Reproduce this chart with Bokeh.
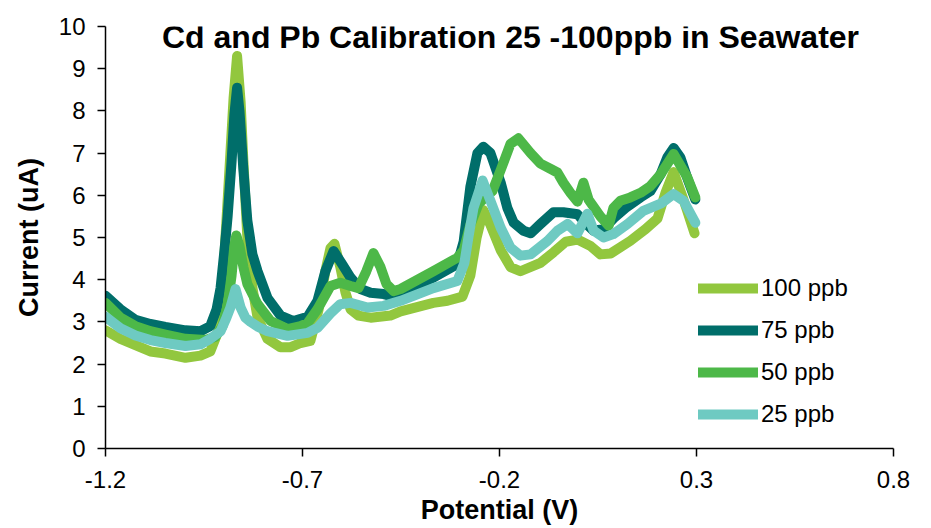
from bokeh.plotting import figure
from bokeh.models import Range1d, FixedTicker, Legend, LegendItem, Label, CustomJSTickFormatter
from bokeh.embed import file_html
from bokeh.resources import INLINE

# ---- data (Potential in V, Current in uA) ----
x_100 = [-1.200, -1.162, -1.124, -1.086, -1.048, -0.997, -0.959, -0.934, -0.913, -0.903,
         -0.893, -0.883, -0.875, -0.866, -0.857, -0.850, -0.840, -0.827, -0.814, -0.789,
         -0.756, -0.730, -0.705, -0.680, -0.659, -0.642, -0.629, -0.619, -0.604, -0.591,
         -0.578, -0.558, -0.527, -0.477, -0.451, -0.368, -0.332, -0.294, -0.274, -0.258,
         -0.241, -0.223, -0.197, -0.172, -0.147, -0.096, -0.063, -0.032, -0.002, 0.031,
         0.056, 0.082, 0.132, 0.171, 0.201, 0.221, 0.242, 0.267, 0.295]
y_100 = [2.80, 2.60, 2.45, 2.30, 2.25, 2.15, 2.20, 2.30, 2.80, 3.80,
         5.40, 7.00, 8.30, 9.30, 8.20, 6.80, 5.00, 3.80, 3.10, 2.60,
         2.40, 2.40, 2.50, 2.55, 3.30, 4.20, 4.75, 4.85, 4.30, 3.70,
         3.30, 3.15, 3.10, 3.15, 3.25, 3.45, 3.50, 3.60, 4.10, 5.00,
         5.65, 5.30, 4.70, 4.30, 4.20, 4.40, 4.65, 4.90, 4.95, 4.80,
         4.60, 4.62, 4.92, 5.20, 5.45, 6.05, 6.55, 5.90, 5.10]

x_75 = [-1.200, -1.162, -1.124, -1.086, -1.048, -0.997, -0.959, -0.934, -0.918, -0.908,
        -0.898, -0.890, -0.880, -0.873, -0.866, -0.860, -0.850, -0.840, -0.827, -0.814,
        -0.789, -0.756, -0.723, -0.687, -0.662, -0.642, -0.621, -0.598, -0.578, -0.553,
        -0.527, -0.494, -0.469, -0.426, -0.368, -0.307, -0.291, -0.274, -0.256, -0.241,
        -0.223, -0.197, -0.180, -0.164, -0.139, -0.121, -0.096, -0.063, -0.038, -0.002,
        0.023, 0.039, 0.064, 0.089, 0.120, 0.158, 0.183, 0.209, 0.226, 0.242,
        0.259, 0.277, 0.297]
y_75 = [3.62, 3.30, 3.05, 2.95, 2.88, 2.80, 2.78, 2.90, 3.30, 3.80,
        4.70, 5.50, 6.80, 7.90, 8.55, 8.00, 6.60, 5.40, 4.60, 4.20,
        3.57, 3.15, 3.02, 3.12, 3.50, 4.20, 4.68, 4.35, 4.05, 3.78,
        3.69, 3.66, 3.60, 3.80, 4.05, 4.37, 4.90, 6.20, 7.00, 7.15,
        7.00, 6.30, 5.70, 5.35, 5.16, 5.10, 5.32, 5.60, 5.60, 5.55,
        5.30, 5.16, 5.20, 5.45, 5.70, 5.95, 6.10, 6.50, 6.90, 7.12,
        6.90, 6.40, 5.90]

x_50 = [-1.200, -1.162, -1.124, -1.086, -1.048, -0.997, -0.946, -0.921, -0.903, -0.890,
        -0.880, -0.873, -0.868, -0.860, -0.850, -0.840, -0.814, -0.781, -0.738, -0.705,
        -0.687, -0.662, -0.629, -0.604, -0.578, -0.558, -0.538, -0.520, -0.502, -0.487,
        -0.469, -0.451, -0.368, -0.307, -0.291, -0.274, -0.253, -0.236, -0.218, -0.197,
        -0.172, -0.152, -0.121, -0.096, -0.071, -0.053, -0.038, -0.020, -0.002, 0.013,
        0.026, 0.056, 0.077, 0.089, 0.107, 0.132, 0.158, 0.183, 0.209, 0.242,
        0.277, 0.297]
y_50 = [3.45, 3.10, 2.90, 2.78, 2.70, 2.60, 2.57, 2.65, 2.90, 3.40,
        4.10, 4.80, 5.05, 4.80, 4.30, 3.90, 3.42, 3.02, 2.83, 2.90,
        2.97, 3.30, 3.85, 3.93, 3.85, 3.80, 4.20, 4.63, 4.30, 3.90,
        3.73, 3.78, 4.20, 4.52, 4.70, 5.30, 5.80, 5.95, 6.10, 6.60,
        7.22, 7.35, 7.00, 6.75, 6.63, 6.54, 6.30, 6.06, 5.85, 6.30,
        5.90, 5.50, 5.28, 5.70, 5.87, 5.95, 6.06, 6.22, 6.50, 6.98,
        6.42, 5.95]

x_25 = [-1.200, -1.162, -1.124, -1.086, -1.048, -0.997, -0.959, -0.934, -0.908, -0.893,
        -0.883, -0.870, -0.857, -0.845, -0.832, -0.812, -0.789, -0.738, -0.687, -0.662,
        -0.629, -0.604, -0.578, -0.535, -0.494, -0.451, -0.368, -0.307, -0.289, -0.279,
        -0.266, -0.243, -0.223, -0.197, -0.172, -0.147, -0.121, -0.078, -0.053, -0.027,
        -0.002, 0.023, 0.039, 0.064, 0.089, 0.125, 0.165, 0.209, 0.242, 0.267,
        0.297]
y_25 = [3.12, 2.85, 2.68, 2.57, 2.50, 2.43, 2.47, 2.60, 2.78, 3.10,
        3.34, 3.78, 3.34, 3.10, 3.00, 2.88, 2.78, 2.67, 2.74, 2.86,
        3.20, 3.42, 3.45, 3.34, 3.38, 3.50, 3.80, 3.97, 4.40, 5.00,
        5.70, 6.35, 5.87, 5.23, 4.76, 4.57, 4.60, 4.92, 5.16, 5.32,
        5.10, 5.56, 5.16, 5.00, 5.08, 5.32, 5.63, 5.80, 6.03, 5.87,
        5.35]

series_names = ["100 ppb", "75 ppb", "50 ppb", "25 ppb"]
series_colors = ["#92C73E", "#006E6A", "#4DB848", "#6ECAC2"]
series_x = [x_100, x_75, x_50, x_25]
series_y = [y_100, y_75, y_50, y_25]

x_ticks = [-1.2, -0.7, -0.2, 0.3, 0.8]
y_ticks = list(range(0, 11))

title_text = "Cd and Pb Calibration 25 -100ppb in Seawater"
x_label = "Potential (V)"
y_label = "Current (uA)"

FONT = "Liberation Sans"

p = figure(width=921, height=528, output_backend="svg", toolbar_location=None,
           x_range=Range1d(-1.2, 0.8), y_range=Range1d(0, 10),
           min_border_left=105, min_border_right=28, min_border_top=26, min_border_bottom=80)
p.outline_line_color = None
p.grid.visible = False
p.background_fill_color = "white"
p.border_fill_color = "white"

renderers = []
for xs, ys, c in zip(series_x, series_y, series_colors):
    r = p.line(xs, ys, line_color=c, line_width=10, line_cap="round", line_join="round")
    renderers.append(r)

for ax in (p.xaxis[0], p.yaxis[0]):
    ax.axis_line_color = "black"
    ax.axis_line_width = 1.5
    ax.major_tick_line_color = "black"
    ax.major_tick_line_width = 1.5
    ax.major_tick_in = 0
    ax.major_tick_out = 8
    ax.minor_tick_line_color = None
    ax.major_label_text_font = FONT
    ax.major_label_text_font_size = "24px"
    ax.major_label_text_color = "black"
    ax.major_label_text_line_height = 1.0
    ax.axis_label_text_font = FONT
    ax.axis_label_text_font_size = "27px"
    ax.axis_label_text_font_style = "bold"
    ax.axis_label_text_color = "black"
    ax.axis_label_text_line_height = 1.0

p.xaxis[0].ticker = FixedTicker(ticks=x_ticks)
p.xaxis[0].formatter = CustomJSTickFormatter(code="return tick.toFixed(1);")
p.yaxis[0].ticker = FixedTicker(ticks=y_ticks)
p.xaxis[0].axis_label = x_label
p.yaxis[0].axis_label = y_label
p.xaxis[0].major_label_standoff = 14
p.yaxis[0].major_label_standoff = 12
p.xaxis[0].axis_label_standoff = 4
p.yaxis[0].axis_label_standoff = 12

p.add_layout(Label(x=-0.172, y=9.74, text=title_text, text_align="center",
                   text_baseline="middle", text_font=FONT, text_font_size="32px",
                   text_font_style="bold", text_color="black"))

legend = Legend(items=[LegendItem(label=n, renderers=[r]) for n, r in zip(series_names, renderers)],
                location=(593, 20), padding=0, margin=0, spacing=14,
                glyph_width=60, glyph_height=24, label_height=24, label_standoff=3,
                label_text_font=FONT, label_text_font_size="24px", label_text_color="black",
                background_fill_alpha=0, border_line_color=None)
p.add_layout(legend)

open("out.html", "w").write(file_html(p, INLINE))
